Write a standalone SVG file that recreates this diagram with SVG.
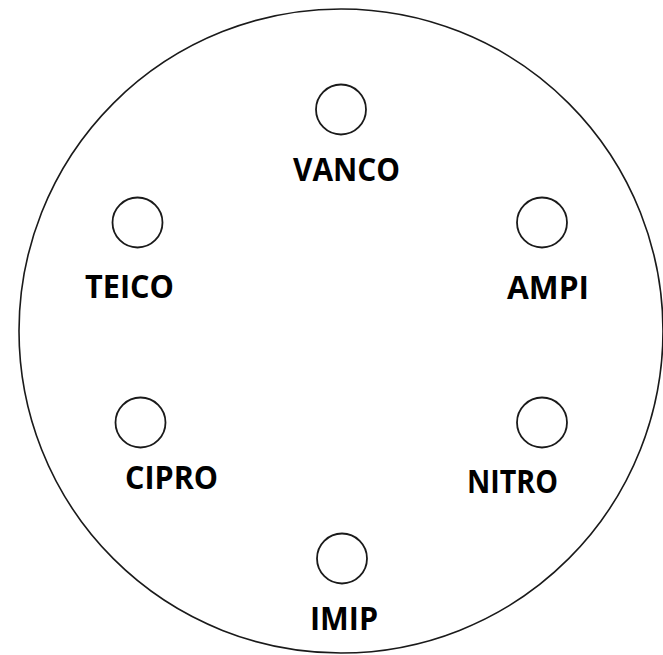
<svg xmlns="http://www.w3.org/2000/svg" width="663" height="655" viewBox="0 0 663 655">
<style>
.ring{fill:none;stroke:#1a1a1a;stroke-width:1.6}
.well{fill:#fff;stroke:#1a1a1a;stroke-width:1.8}
.lbl{font-family:"Open Sans","Liberation Sans",sans-serif;font-weight:700;font-size:32px;fill:#000;text-anchor:middle}
</style>
<rect width="663" height="655" fill="#fff"/>
<g id="plate"><circle class="ring" cx="341" cy="331" r="322"/></g>
<g id="connectors"></g>
<g id="vanco"><circle class="well" cx="341" cy="109.5" r="25"/><text class="lbl" x="346.5" y="181" textLength="107" lengthAdjust="spacingAndGlyphs">VANCO</text></g>
<g id="teico"><circle class="well" cx="137.5" cy="222.5" r="25"/><text class="lbl" x="129.5" y="298" textLength="89" lengthAdjust="spacingAndGlyphs">TEICO</text></g>
<g id="ampi"><circle class="well" cx="542" cy="222.5" r="25"/><text class="lbl" x="548" y="299" textLength="82" lengthAdjust="spacingAndGlyphs">AMPI</text></g>
<g id="cipro"><circle class="well" cx="140.5" cy="422.5" r="25"/><text class="lbl" x="171.5" y="489" textLength="93" lengthAdjust="spacingAndGlyphs">CIPRO</text></g>
<g id="nitro"><circle class="well" cx="542" cy="422.5" r="25"/><text class="lbl" x="512.5" y="493" textLength="91" lengthAdjust="spacingAndGlyphs">NITRO</text></g>
<g id="imip"><circle class="well" cx="342" cy="558.5" r="25"/><text class="lbl" x="344" y="630" textLength="68" lengthAdjust="spacingAndGlyphs">IMIP</text></g>
</svg>
